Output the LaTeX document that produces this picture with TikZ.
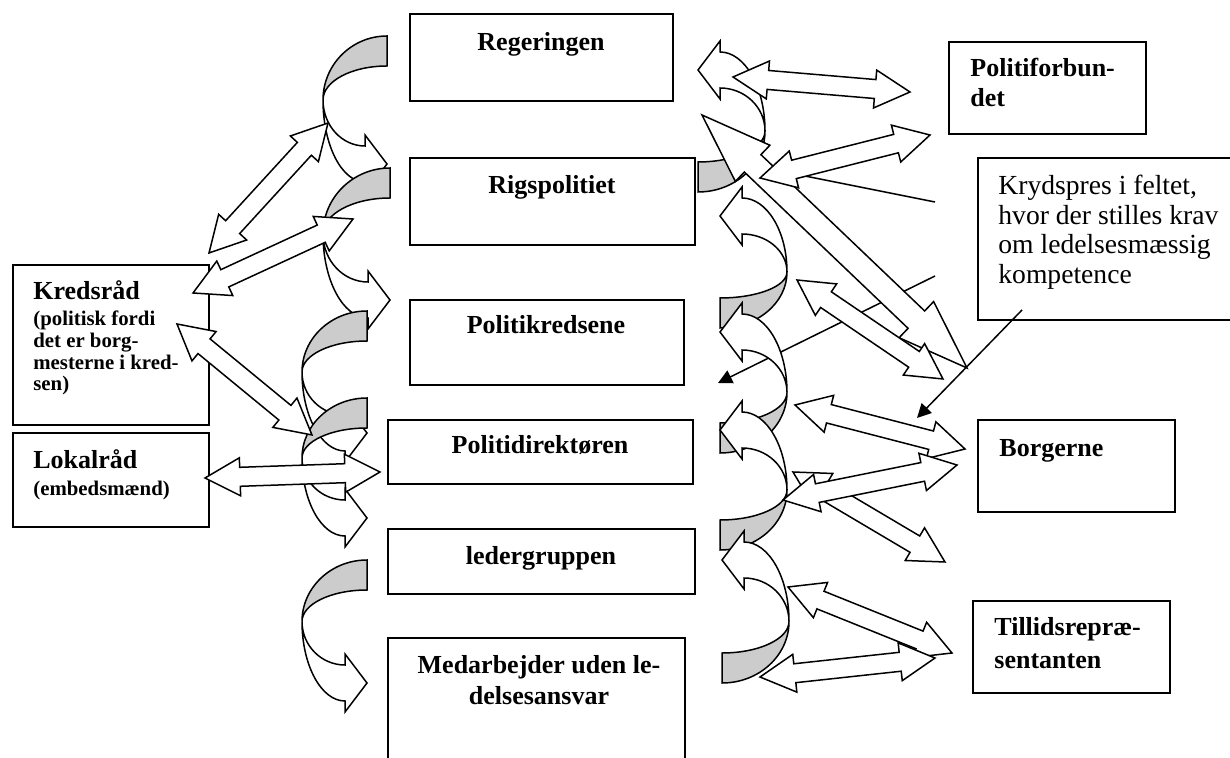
\documentclass[tikz,border=0pt]{standalone}
\usepackage{fontspec}
\setmainfont{Liberation Serif}
\usetikzlibrary{arrows.meta, fit, calc}

% curved ribbon arrow: #1,#2 outer end of the grey band, #3 height, #4 bulge, #5 turn
\newcommand\ribbon[5]{%
  \begin{scope}[shift={(#1,#2)}, rotate=#5]
    \draw[back] (0,0) arc[start angle=270, end angle=180, x radius=#4, y radius=#3/2]
      arc[start angle=180, end angle=270, x radius=#4, y radius=#3/2-30] -- cycle;
    \draw[front] ({-#4},{#3/2}) arc[start angle=180, end angle=90, x radius=#4-22, y radius=#3/2+18]
      -- (-22,{#3+29}) -- (0,#3) -- (-22,{#3-29}) -- (-22,{#3-18})
      arc[start angle=90, end angle=180, x radius=#4-22, y radius=#3/2-18] -- cycle;
  \end{scope}}

% double block arrow between two named points: #3 head length, #4 head, #5 shaft (half widths, pt)
\newcommand\dblarrow[5]{%
  \path (#1); \pgfgetlastxy{\ax}{\ay}
  \path (#2); \pgfgetlastxy{\bx}{\by}
  \pgfmathsetmacro\arrang{atan2((\by)-(\ay),(\bx)-(\ax))}
  \pgfmathsetmacro\arrlen{veclen((\bx)-(\ax),(\by)-(\ay))}
  \pgfmathsetmacro\arrmid{\arrlen-#3}
  \draw[blockarr, shift={(#1)}, rotate=\arrang]
    (0pt,0pt) -- (#3pt,#4pt) -- (#3pt,#5pt) -- (\arrmid pt,#5pt) -- (\arrmid pt,#4pt)
    -- (\arrlen pt,0pt) -- (\arrmid pt,-#4pt) -- (\arrmid pt,-#5pt) -- (#3pt,-#5pt)
    -- (#3pt,-#4pt) -- cycle;}

\begin{document}
\begin{tikzpicture}[x=0.5pt, y=-0.5pt, % Pixelraster, y nach unten
    box/.style={draw, line width=1pt, fill=white, inner sep=0pt},
    title/.style={font=\fontsize{13}{15}\selectfont\bfseries, inner sep=0pt},
    plain/.style={font=\fontsize{13.8}{14.7}\selectfont, inner sep=0pt},
    small/.style={font=\fontsize{10.4}{10.7}\selectfont\bfseries, inner sep=0pt},
    back/.style={draw, fill=gray!40, line width=0.75pt},
    front/.style={draw, fill=white, line width=0.75pt},
    blockarr/.style={draw, fill=white, line width=0.75pt, line join=miter},
    callout/.style={line width=0.75pt, -{Triangle[length=7pt,width=7pt]}}]
\useasboundingbox (0,0) rectangle (1230,758);

% Kasten in der Mitte
\node[box, fit={(410,14) (673,101)}] (reg) {};
\node[box, fit={(410,158) (695,245)}] (rig) {};
\node[box, fit={(410,300) (684,385)}] (kreds) {};
\node[box, fit={(388,420) (693,484)}] (dir) {};
\node[box, fit={(388,529) (695,594)}] (leder) {};
\node[box, fit={(388,638) (685,770)}] (medarb) {};
% Kasten links und rechts
\node[box, fit={(13,265) (209,425)}] (kraad) {};
\node[box, fit={(13,433) (209,527)}] (lraad) {};
\node[box, fit={(949,42) (1146,134)}] (pforb) {};
\node[box, fit={(978,158) (1235,320)}] (krydsbox) {};
\node[box, fit={(978,420) (1175,512)}] (borg) {};
\node[box, fit={(973,601) (1170,693)}] (tillid) {};

% Texte
\node[title, anchor=base] (regT) at (541,51) {Regeringen};
\node[title, anchor=base] (rigT) at (552,194) {Rigspolitiet};
\node[title, anchor=base] (kredsT) at (546,334) {Politikredsene};
\node[title, anchor=base] (dirT) at (540,454) {Politidirektøren};
\node[title, anchor=base] (lederT) at (541,564) {ledergruppen};
\node[title, anchor=base] (medarbT) at (539,673)
  {\parbox[t]{150pt}{\centering\fontsize{13}{15.5}\selectfont Medarbejder uden le-\\delsesansvar}};
\node[title, anchor=base west] (kraadT) at (33,300) {Kredsråd};
\node[small, anchor=base west] (kraadS) at (33,326)
  {\parbox[t]{90pt}{\fontsize{10.4}{10.8}\selectfont (politisk fordi\\det er borg-\\mesterne i kred-\\sen)}};
\node[title, anchor=base west] (lraadT) at (33,468) {Lokalråd};
\node[small, anchor=base west] (lraadS) at (33,495) {(embedsmænd)};
\node[title, anchor=base west] (pforbT) at (970,77)
  {\parbox[t]{100pt}{\fontsize{13}{15}\selectfont Politiforbun-\\det}};
\node[plain, anchor=base west] (krydsT) at (998,195)
  {\parbox[t]{125pt}{\fontsize{13.8}{14.7}\selectfont Krydspres i feltet,\\hvor der stilles krav\\om ledelsesmæssig\\kompetence}};
\node[title, anchor=base west] (borgT) at (999,457) {Borgerne};
\node[title, anchor=base west] (tillidT) at (994,635)
  {\parbox[t]{100pt}{\fontsize{13}{16.5}\selectfont Tillidsrepræ-\\sentanten}};

% Linien vom Krydspres-Feld
\coordinate (c1a) at (935,202); \coordinate (c1b) at (800,175);
\coordinate (c2a) at (935,276); \coordinate (c2b) at (718,383);
\coordinate (c3a) at (1022,310); \coordinate (c3b) at (917,418);
\draw[line width=0.75pt] (c1a) -- (c1b);
\draw[callout] (c2a) -- (c2b);
\draw[callout] (c3a) -- (c3b);

% gebogene Pfeile links (nach unten)
\ribbon{387}{36}{128}{64}{0}
\ribbon{390}{168}{132}{67}{0}
\ribbon{367}{311}{122}{65}{0}
\ribbon{367}{398}{120}{65}{0}
\ribbon{367}{560}{123}{65}{0}
% gebogene Pfeile rechts (nach oben)
\ribbon{698}{192}{122}{67}{180}
\ribbon{720}{328}{112}{67}{180}
\ribbon{720}{453}{121}{67}{180}
\ribbon{720}{550}{120}{67}{180}
\ribbon{722}{683}{123}{67}{180}

% Endpunkte der Doppelpfeile
\coordinate (a1) at (733,77);  \coordinate (b1) at (910,92);
\coordinate (a2) at (760,178); \coordinate (b2) at (930,135);
\coordinate (a3) at (702,115); \coordinate (b3) at (967,368);
\coordinate (a4) at (797,280); \coordinate (b4) at (943,379);
\coordinate (a5) at (795,405); \coordinate (b5) at (965,449);
\coordinate (a6) at (793,472); \coordinate (b6) at (945,562);
\coordinate (a7) at (783,500); \coordinate (b7) at (957,465);
\coordinate (a8) at (788,587); \coordinate (b8) at (952,653);
\coordinate (a9) at (760,677); \coordinate (b9) at (935,658);
\coordinate (a10) at (328,123); \coordinate (b10) at (209,253);
\coordinate (a11) at (353,219); \coordinate (b11) at (193,293);
\coordinate (a12) at (177,324); \coordinate (b12) at (312,435);
\coordinate (a13) at (205,478); \coordinate (b13) at (380,472);

% Doppelpfeile
\dblarrow{a3}{b3}{35}{12.5}{6}
\foreach \s/\e in {a1/b1, a2/b2, a4/b4, a5/b5, a6/b6, a7/b7, a8/b8, a9/b9,
    a10/b10, a11/b11, a12/b12, a13/b13} {
  \dblarrow{\s}{\e}{17.5}{9.5}{4.75}
}
\end{tikzpicture}
\end{document}
